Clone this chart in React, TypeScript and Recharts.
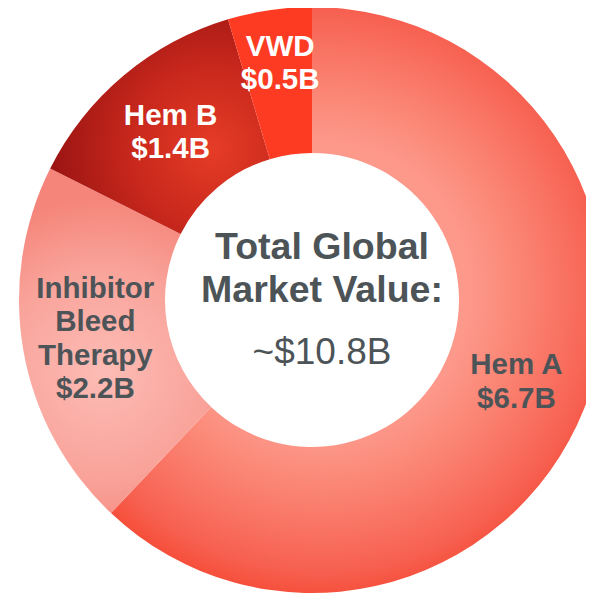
import React from "react";
import { PieChart, Pie, Cell } from "recharts";

const categories = ["Hem A", "Inhibitor Bleed Therapy", "Hem B", "VWD"];
const values = [6.7, 2.2, 1.4, 0.5];
const labelLines = [
  ["Hem A", "$6.7B"],
  ["Inhibitor", "Bleed", "Therapy", "$2.2B"],
  ["Hem B", "$1.4B"],
  ["VWD", "$0.5B"],
];
const centerLines = ["Total Global", "Market Value:"];
const centerValue = "~$10.8B";

const fills = ["url(#gHemA)", "url(#gInh)", "url(#gHemB)", "#fd3b23"];
const textColors = ["#4d5458", "#4d5458", "#ffffff", "#ffffff"];

const data = categories.map((name, i) => ({ name, value: values[i] }));

const CX = 304;
const CY = 292;
const RAD = Math.PI / 180;

const renderLabel = (props: any) => {
  const { cx, cy, midAngle, index } = props;
  const r = index === 3 ? 240 : 220;
  const x = cx + r * Math.cos(-midAngle * RAD) + (index === 3 ? 3 : 0);
  const y = cy + r * Math.sin(-midAngle * RAD);
  const lines = labelLines[index];
  const lh = 33.5;
  const startY = y - ((lines.length - 1) * lh) / 2 + 10;
  return (
    <text
      key={`lbl-${index}`}
      x={x}
      y={startY}
      textAnchor="middle"
      fill={textColors[index]}
      fontFamily="'Liberation Sans', Arial, sans-serif"
      fontWeight="bold"
      fontSize={29.5}
    >
      {lines.map((l, i) => (
        <tspan key={i} x={x} y={startY + i * lh}>
          {l}
        </tspan>
      ))}
    </text>
  );
};

export default function App() {
  return (
    <PieChart width={586} height={586} margin={{ top: 0, right: 0, bottom: 0, left: 0 }}>
      <defs>
        <radialGradient id="gHemA" gradientUnits="userSpaceOnUse" cx={CX + 10} cy={CY - 10} r={305}>
          <stop offset="0.48" stopColor="#fd998b" />
          <stop offset="0.62" stopColor="#fb8978" />
          <stop offset="0.78" stopColor="#f97464" />
          <stop offset="0.92" stopColor="#f76050" />
          <stop offset="1" stopColor="#f6503c" />
        </radialGradient>
        <radialGradient id="gInh" gradientUnits="userSpaceOnUse" cx={95} cy={365} r={175}>
          <stop offset="0" stopColor="#fcbcb5" />
          <stop offset="0.6" stopColor="#f9a39a" />
          <stop offset="1" stopColor="#f5857a" />
        </radialGradient>
        <radialGradient id="gHemB" gradientUnits="userSpaceOnUse" cx={205} cy={140} r={160}>
          <stop offset="0" stopColor="#e53c27" />
          <stop offset="0.5" stopColor="#c9281c" />
          <stop offset="1" stopColor="#9c1513" />
        </radialGradient>
      </defs>
      <Pie
        data={data}
        dataKey="value"
        nameKey="name"
        cx={CX}
        cy={CY}
        innerRadius={147}
        outerRadius={293}
        startAngle={90}
        endAngle={-270}
        stroke="none"
        label={renderLabel}
        labelLine={false}
        isAnimationActive={false}
      >
        {data.map((d, i) => (
          <Cell key={d.name} fill={fills[i]} />
        ))}
      </Pie>
      <text
        x={CX + 10}
        y={251}
        textAnchor="middle"
        fill="#4d5458"
        fontFamily="'Liberation Sans', Arial, sans-serif"
        fontWeight="bold"
        fontSize={37.5}
      >
        <tspan x={CX + 10} y={251}>{centerLines[0]}</tspan>
        <tspan x={CX + 10} y={294}>{centerLines[1]}</tspan>
      </text>
      <text
        x={CX + 10}
        y={356}
        textAnchor="middle"
        fill="#4d5458"
        fontFamily="'Liberation Sans', Arial, sans-serif"
        fontSize={37}
      >
        {centerValue}
      </text>
    </PieChart>
  );
}
